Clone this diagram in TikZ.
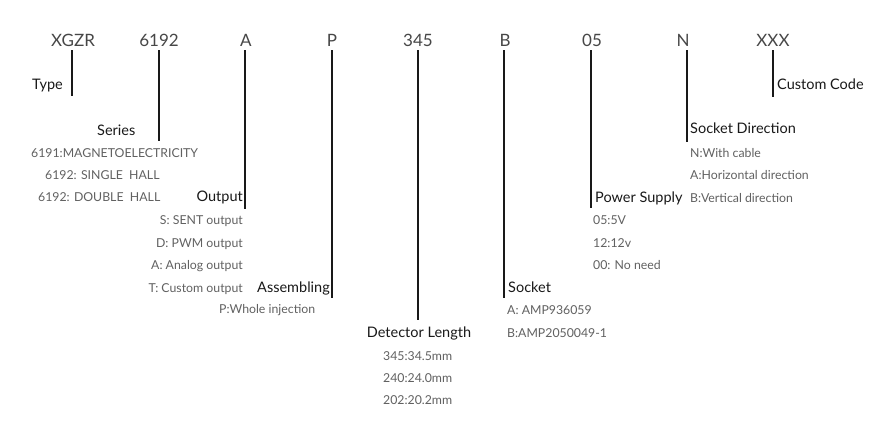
\documentclass[tikz,border=0pt]{standalone}
\usepackage{fontspec}
\setmainfont{Lato}
\begin{document}
\begin{tikzpicture}[x=1pt,y=1pt,
 code/.style={anchor=base, inner sep=0pt, font=\fontsize{17}{20}\selectfont, text=black!72},
 lbl/.style={inner sep=0pt, font=\fontsize{14.5}{17}\selectfont, text=black!90},
 item/.style={inner sep=0pt, font=\fontsize{12.3}{15}\selectfont, text=black!62},
 lead/.style={line width=2pt, draw=black!90, shorten <=4pt}]
\useasboundingbox[fill=white] (0,0) rectangle (888,-423);
% codes
\node[code] (c1) at (73,-46) {XGZR};
\node[code] (c2) at (159,-46) {6192};
\node[code] (c3) at (246,-46) {A};
\node[code] (c4) at (332,-46) {P};
\node[code] (c5) at (418,-46) {345};
\node[code] (c6) at (505,-46) {B};
\node[code] (c7) at (592,-46) {05};
\node[code] (c8) at (683,-46) {N};
\node[code] (c9) at (773,-46) {XXX};
% line ends
\coordinate (e1) at (72,-96);
\coordinate (e2) at (159,-141);
\coordinate (e3) at (245,-209);
\coordinate (e4) at (332,-298);
\coordinate (e5) at (418,-320);
\coordinate (e6) at (504,-298);
\coordinate (e7) at (591,-208);
\coordinate (e8) at (687,-142);
\coordinate (e9) at (773,-97);
\foreach \i in {1,...,9} {\draw[lead] (e\i |- c\i.south) -- (e\i);}
% labels
\node[lbl, anchor=base west] (lType) at (32,-89) {Type};
\node[lbl, anchor=base west] (lSeries) at (97,-135) {Series};
\node[lbl, anchor=base east] (lOut) at (243,-201) {Output};
\node[lbl, anchor=base east] (lAss) at (330,-292) {Assembling};
\node[lbl, anchor=base] (lDet) at (419,-337) {Detector Length};
\node[lbl, anchor=base west] (lSock) at (508,-292) {Socket};
\node[lbl, anchor=base west] (lPow) at (595,-202) {Power Supply};
\node[lbl, anchor=base west] (lDir) at (690,-133) {Socket Direction};
\node[lbl, anchor=base west] (lCus) at (777,-89) {Custom Code};
% series items
\node[item, anchor=base west] (s1) at (31,-157) {6191:MAGNETOELECTRICITY};
\node[item, anchor=base west] (s2) at (45,-179) {6192: SINGLE\ \ HALL};
\node[item, anchor=base west] (s3) at (38,-201) {6192: DOUBLE\ \ HALL};
% output items
\node[item, anchor=base east] (o1) at (243,-224) {S: SENT output};
\node[item, anchor=base east] (o2) at (243,-247) {D: PWM output};
\node[item, anchor=base east] (o3) at (243,-269) {A: Analog output};
\node[item, anchor=base east] (o4) at (243,-292) {T: Custom output};
% assembling
\node[item, anchor=base west] (a1) at (219,-313) {P:Whole injection};
% detector
\node[item, anchor=base west] (d1) at (383,-360) {345:34.5mm};
\node[item, anchor=base west] (d2) at (383,-382) {240:24.0mm};
\node[item, anchor=base west] (d3) at (383,-404) {202:20.2mm};
% socket
\node[item, anchor=base west] (k1) at (507,-314) {A: AMP936059};
\node[item, anchor=base west] (k2) at (507,-337) {B:AMP2050049-1};
% power
\node[item, anchor=base west] (p1) at (593,-224) {05:5V};
\node[item, anchor=base west] (p2) at (593,-247) {12:12v};
\node[item, anchor=base west] (p3) at (593,-269) {00: No need};
% socket direction
\node[item, anchor=base west] (n1) at (690,-157) {N:With cable};
\node[item, anchor=base west] (n2) at (690,-179) {A:Horizontal direction};
\node[item, anchor=base west] (n3) at (690,-202) {B:Vertical direction};
\end{tikzpicture}
\end{document}
